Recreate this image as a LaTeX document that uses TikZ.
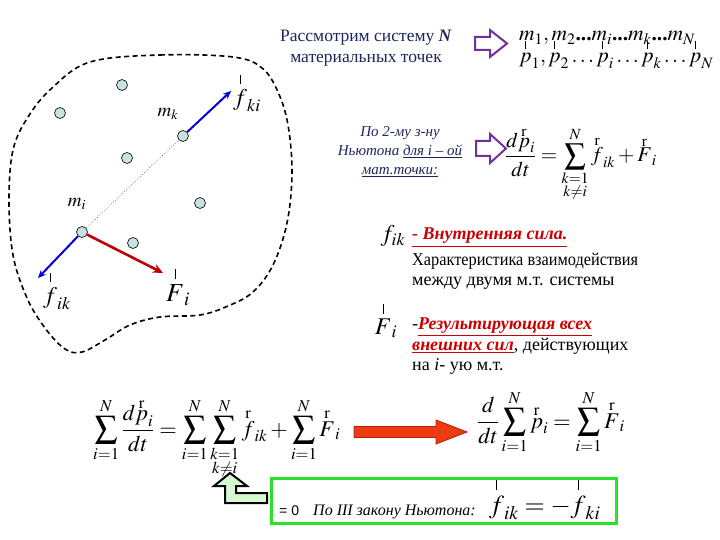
\documentclass[tikz,border=0pt]{standalone}
\usepackage{amsmath}
\usepackage{mathptmx}
\usepackage[no-math]{fontspec}
\setmainfont{Liberation Serif}
\newfontfamily\arialf{Liberation Sans}
\usetikzlibrary{arrows.meta}
\definecolor{navy}{RGB}{28,38,92}
\definecolor{txtred}{RGB}{204,0,0}
\definecolor{massfill}{RGB}{200,225,225}
\definecolor{fblue}{RGB}{0,0,215}
\definecolor{fred}{RGB}{190,0,0}
\definecolor{purp}{RGB}{112,48,160}
\definecolor{gbox}{RGB}{40,225,40}
\definecolor{lgreen}{RGB}{212,250,212}
\definecolor{arrred}{RGB}{235,60,20}
\definecolor{arrredd}{RGB}{180,30,10}
\newcommand{\rr}[1]{\overset{\raisebox{-0.45ex}{$\scriptstyle\mathrm{r}$}}{#1}}
\newcommand{\tk}[1]{\overset{\rule{0.9pt}{0.4em}}{#1}}
\newcommand{\fs}[1]{\fontsize{#1}{#1}\selectfont}
\begin{document}
\begin{tikzpicture}[x=1pt,y=-1pt,
  mass/.style={circle,draw,fill=massfill,minimum size=11pt,inner sep=0pt,line width=0.6pt},
  lbl/.style={inner sep=0pt},
  blueforce/.style={fblue,line width=2pt,-{Stealth[length=8pt,width=7pt]}},
  redforce/.style={fred,line width=2.6pt,-{Stealth[length=10pt,width=9pt]}},
  txt/.style={inner sep=0pt,anchor=base west},
  hollowarrow/.style={draw=purp,line width=2pt,fill=white,line join=miter}
]
\useasboundingbox (0,0) rectangle (720,540);
% boundary
\draw[line width=1.6pt,dash pattern=on 5pt off 3.5pt]
  plot[smooth cycle,tension=0.6] coordinates {(90,62) (160,55) (233,57) (262,68) (278,92) (288,125) (292,173) (287,223) (273,265) (253,292) (228,306) (200,315) (160,317) (130,325) (105,340) (82,352) (65,349) (45,328) (27,298) (13,255) (9,200) (13,150) (28,117) (52,88)};
% masses
\node[mass] (p1) at (122,85) {};
\node[mass] (p2) at (60,113) {};
\node[mass] (mk) at (183,136) {};
\node[mass] (p3) at (127,158) {};
\node[mass] (p4) at (200,203) {};
\node[mass] (mi) at (82,232) {};
\node[mass] (p5) at (133,243) {};
\coordinate (fkiend) at (231,91);
\coordinate (fikend) at (38,278);
\coordinate (Fiend) at (163,273);
\draw[dotted,line width=0.5pt] (mi) -- (mk);
\draw[blueforce] (mk) -- (fkiend);
\draw[blueforce] (mi) -- (fikend);
\draw[redforce] (mi) -- (Fiend);
\node[lbl,font=\fs{19}] (lmk) at (168,114) {$m_k$};
\node[lbl,font=\fs{19}] (lmi) at (77,204) {$m_i$};
\node[lbl,font=\fs{24}] (lfki) at (247,92) {$\tk{f}_{ki}$};
\node[lbl,font=\fs{24}] (lfik) at (57,290) {$\tk{f}_{ik}$};
\node[lbl,font=\fs{26}] (lFi) at (178,286) {$\tk{F}_{i}$};
% top text
\node[lbl,text=navy,font=\fs{17.5}] (t1) at (366,38) {Рассмотрим систему \textbf{\textit{N}}};
\node[lbl,text=navy,font=\fs{17.5}] (t2) at (366,60) {материальных точек};
\draw[hollowarrow] (475,37) -- (490,37) -- (490,30) -- (507,43.5) -- (490,57) -- (490,50) -- (475,50) -- cycle;
\node[txt,font=\fs{21.5}] (mline) at (519,41) {$m_1, m_2\textbf{...}m_i\textbf{...}m_k\textbf{...}m_N$};
\node[txt,font=\fs{21.5}] (pline) at (519,63) {$\tk{p}_1, \tk{p}_2\ldots\tk{p}_i\ldots\tk{p}_k\ldots\tk{p}_N$};
% second law
\node[lbl,text=navy,align=center,font=\fs{15}\itshape] (t3) at (400,152) {По 2-му з-ну\\[4pt] Ньютона \underline{для i -- ой}\\[4pt] \underline{мат.точки:}};
\draw[hollowarrow] (476,141) -- (490,141) -- (490,134) -- (506,148.5) -- (490,163) -- (490,156) -- (476,156) -- cycle;
\node[txt,font=\fs{21}] (eq1) at (505,162) {$\displaystyle\frac{d\rr{p}_i}{dt} = \sum_{\substack{k=1\\k\neq i}}^{N} \rr{f}_{ik} + \rr{F}_i$};
% explanations
\node[lbl,font=\fs{24}] (sfik) at (393,236) {$f_{ik}$};
\node[txt,text=txtred,font=\fs{18}] (d1) at (412,240) {\textbf{\textit{\underline{- Внутренняя сила.}}}};
\node[txt,font=\fs{18}] (d2) at (412,265) {\scalebox{0.905}[1]{Характеристика взаимодействия}};
\node[txt,font=\fs{18}] (d3) at (412,285) {между двумя м.т. системы};
\node[lbl,font=\fs{24}] (sFi) at (386,320) {$\tk{F}_i$};
\node[txt,font=\fs{18}] (d4) at (412,329) {-\textcolor{txtred}{\textbf{\textit{\underline{Результирующая всех}}}}};
\node[txt,font=\fs{18}] (d5) at (412,350) {\textcolor{txtred}{\textbf{\textit{\underline{внешних сил}}}}, действующих};
\node[txt,font=\fs{18}] (d6) at (412,370) {на \textit{i}- ую м.т.};
% bottom equations
\node[txt,font=\fs{22.5}] (eq2) at (93,436) {\resizebox{247pt}{!}{$\displaystyle\sum_{i=1}^{N}\frac{d\rr{p}_i}{dt} = \sum_{i=1}^{N}\sum_{\substack{k=1\\k\neq i}}^{N}\rr{f}_{ik} + \sum_{i=1}^{N}\rr{F}_i$}};
\draw[fill=arrred,draw=arrredd,line width=0.8pt] (354,426.5) -- (436,426.5) -- (436,420) -- (467,432) -- (436,444) -- (436,437.5) -- (354,437.5) -- cycle;
\node[txt,font=\fs{22.5}] (eq3) at (477,428) {$\displaystyle\frac{d}{dt}\sum_{i=1}^{N}\rr{p}_i = \sum_{i=1}^{N}\rr{F}_i$};
% green box
\node[draw=gbox,line width=3pt,minimum width=345pt,minimum height=45pt,inner sep=0pt] (box) at (443.5,500.5) {};
\node[txt,font=\fs{14}\arialf] (z0) at (279,515) {= 0};
\node[txt,font=\fs{16}\itshape] (law) at (313,515) {По III закону Ньютона:};
\node[txt,font=\fs{26}] (law2) at (489,513) {$\tk{f}_{ik} = -\tk{f}_{ki}$};
\draw[fill=lgreen,line width=2pt,line join=miter] (230,473) -- (247,486) -- (236,486) -- (236,493) -- (267,493) -- (267,503) -- (225,503) -- (225,486) -- (214,486) -- cycle;
\end{tikzpicture}
\end{document}
